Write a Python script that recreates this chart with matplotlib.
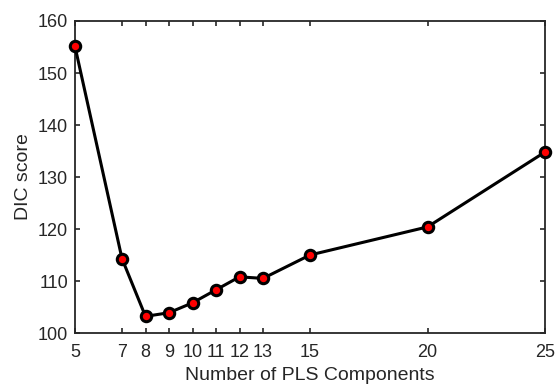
import matplotlib
matplotlib.use('Agg')
import matplotlib.pyplot as plt

plt.rcParams['font.family'] = ['Liberation Sans', 'DejaVu Sans']

# data
n_components = [5, 7, 8, 9, 10, 11, 12, 13, 15, 20, 25]
dic_score = [155.1, 114.3, 103.2, 103.9, 105.8, 108.3, 110.8, 110.5, 115.0, 120.4, 134.8]
x_ticks = [5, 7, 8, 9, 10, 11, 12, 13, 15, 20, 25]
y_ticks = [100, 110, 120, 130, 140, 150, 160]

axcol = '#262626'

fig = plt.figure(figsize=(5.55, 3.85), dpi=100)
ax = fig.add_axes([75 / 555, 1 - 333 / 385, 470 / 555, 312 / 385])

ax.plot(n_components, dic_score, color='black', linewidth=2.2, marker='o',
        markersize=7.5, markerfacecolor='red', markeredgecolor='black',
        markeredgewidth=2.2, clip_on=False, zorder=3)

ax.set_xlim(5, 25)
ax.set_ylim(100, 160)
ax.set_xticks(x_ticks)
ax.set_yticks(y_ticks)
ax.tick_params(direction='in', length=3.5, width=1.2, colors=axcol,
               labelsize=13, top=True, right=True)
ax.tick_params(axis='x', pad=8)
ax.tick_params(axis='y', pad=5)
for s in ax.spines.values():
    s.set_color(axcol)
    s.set_linewidth(1.3)

ax.set_xlabel('Number of PLS Components', fontsize=14, color=axcol, labelpad=4)
ax.set_ylabel('DIC score', fontsize=14, color=axcol, labelpad=4)

fig.savefig('out.png', dpi=100)
